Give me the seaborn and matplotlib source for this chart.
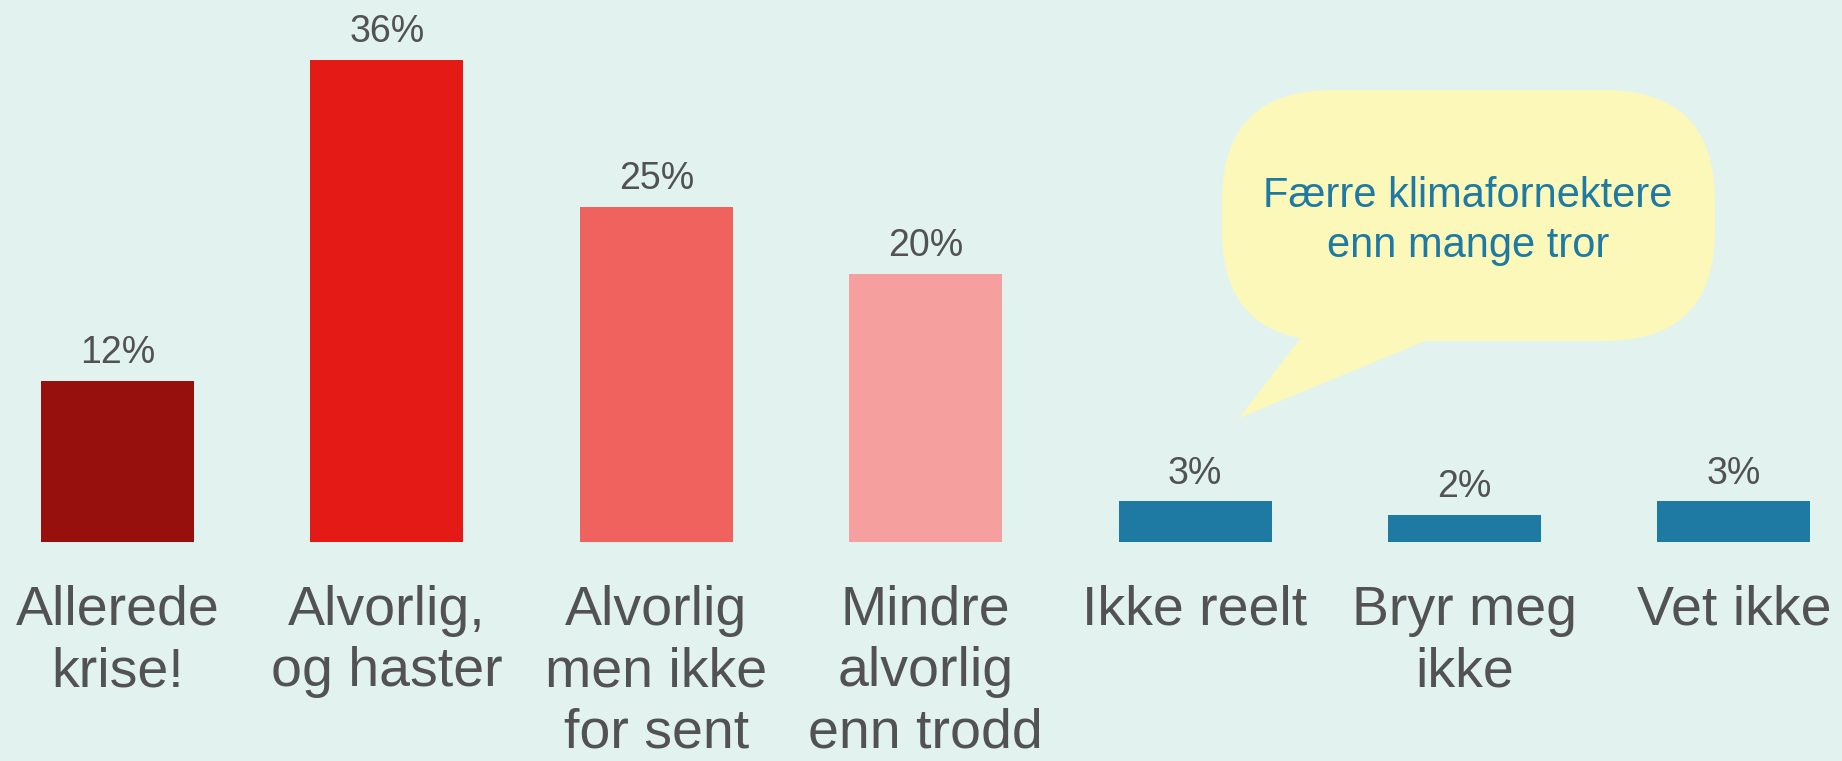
import numpy as np
import pandas as pd
import seaborn as sns
import matplotlib.pyplot as plt
from matplotlib.patches import FancyBboxPatch, Polygon

# data
categories = ["Allerede\nkrise!", "Alvorlig,\nog haster", "Alvorlig\nmen ikke\nfor sent",
              "Mindre\nalvorlig\nenn trodd", "Ikke reelt", "Bryr meg\nikke", "Vet ikke"]
values = [12, 36, 25, 20, 3, 2, 3]
bar_colors = ["#98100E", "#E31A16", "#F0625E", "#F5A09E", "#1E7AA3", "#1E7AA3", "#1E7AA3"]
bubble_text = "Færre klimafornektere\nenn mange tror"

BG = "#E2F3EF"
TXT = "#525252"

sns.set_theme(style="white")
plt.rcParams['font.family'] = ['Liberation Sans', 'DejaVu Sans']

W, H = 1842, 761
fig = plt.figure(figsize=(W / 100, H / 100), dpi=100, facecolor=BG)

# bar baseline at ~541 px from top
base = 541.5
ax = fig.add_axes([0, (H - base) / H, 1, base / H])
ax.set_facecolor(BG)

df = pd.DataFrame({"kat": categories, "andel": values})
sns.barplot(data=df, x="kat", y="andel", hue="kat", palette=bar_colors,
            legend=False, width=0.568, saturation=1, linewidth=0, ax=ax)

step = 269.4
first = 117.5
ax.set_xlim(-first / step, (W - first) / step)
ax.set_ylim(0, base / 13.38)

for p, v in zip(ax.patches, values):
    ax.annotate(f"{v}%", (p.get_x() + p.get_width() / 2, p.get_height()),
                xytext=(0, 7), textcoords="offset points",
                ha="center", va="bottom", fontsize=27, color=TXT)

ax.set_xlabel("")
ax.set_ylabel("")
ax.set_yticks([])
ax.tick_params(axis="x", length=0, pad=31, labelsize=40, labelcolor=TXT)
for lab in ax.get_xticklabels():
    lab.set_linespacing(1.24)
sns.despine(ax=ax, left=True, bottom=True)

# speech bubble (figure pixel coords -> fractions)
def fx(x):
    return x / W

def fy(y):
    return (H - y) / H

bx0, bx1, by0, by1 = 1222, 1715, 90, 341
box = FancyBboxPatch((fx(bx0), fy(by1)), fx(bx1 - bx0), (by1 - by0) / H,
                     boxstyle="round,pad=0,rounding_size=0.06",
                     transform=fig.transFigure, facecolor="#FCF8BA",
                     edgecolor="none", mutation_aspect=W / H)
fig.patches.append(box)
tail = Polygon([(fx(1300), fy(by1 - 2)), (fx(1239), fy(418)), (fx(1430), fy(by1 - 2))],
               closed=True, transform=fig.transFigure, facecolor="#FCF8BA",
               edgecolor="none")
fig.patches.append(tail)
fig.text(fx(1468), fy(221), bubble_text, ha="center", va="center",
         fontsize=30, color="#1E7AA3", linespacing=1.3)

fig.savefig("out.png", dpi=100, facecolor=BG)
